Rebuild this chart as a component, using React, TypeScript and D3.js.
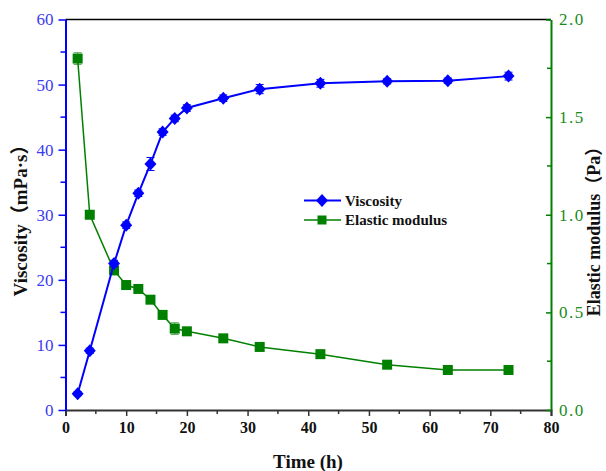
import { useEffect, useRef } from "react"
import * as d3 from "d3"

// time (h)
const times = [2, 4, 8, 10, 12, 14, 16, 18, 20, 26, 32, 42, 53, 63, 73]
// viscosity, mPa·s
const viscosity = [2.5, 9.1, 22.5, 28.4, 33.3, 37.8, 42.7, 44.8, 46.4, 47.9, 49.3, 50.2, 50.5, 50.6, 51.3]
const viscosityErr = [0.3, 0.4, 0.5, 0.5, 0.5, 1.0, 0.5, 0.5, 0.5, 0.5, 0.7, 0.6, 0.4, 0.4, 0.6]
// elastic modulus, Pa
const elastic = [1.8, 1.0, 0.715, 0.64, 0.62, 0.565, 0.487, 0.417, 0.403, 0.367, 0.323, 0.286, 0.232, 0.205, 0.205]
const elasticErr = [0.03, 0.01, 0.02, 0.01, 0.01, 0.01, 0.01, 0.03, 0.01, 0.01, 0.01, 0.01, 0.01, 0.01, 0.01]

const xTicks = [0, 10, 20, 30, 40, 50, 60, 70, 80]
const yLeftTicks = [0, 10, 20, 30, 40, 50, 60]
const yRightTicks = [0, 0.5, 1.0, 1.5, 2.0]

const serif = "'Liberation Serif', 'Times New Roman', 'Noto Sans CJK SC', serif"
const BLUE = "#0000ff"
const GREEN = "#008000"

export default function App() {
    const ref = useRef<SVGSVGElement | null>(null)

    useEffect(() => {
        const svg = d3.select(ref.current)
        svg.selectAll("*").remove()

        const width = 606
        const height = 471
        const margin = { top: 19.5, right: 55, bottom: 61, left: 65.5 }
        const innerW = width - margin.left - margin.right
        const innerH = height - margin.top - margin.bottom

        const x = d3.scaleLinear().domain([0, 80]).range([0, innerW])
        const yL = d3.scaleLinear().domain([0, 60]).range([innerH, 0])
        const yR = d3.scaleLinear().domain([0, 2]).range([innerH, 0])

        const g = svg.append("g").attr("transform", `translate(${margin.left},${margin.top})`)

        // top frame line
        g.append("line")
            .attr("x1", 0).attr("x2", innerW)
            .attr("y1", 0).attr("y2", 0)
            .attr("stroke", "#000").attr("stroke-width", 1.5)

        // bottom axis
        const xAxis = g.append("g")
            .attr("transform", `translate(0,${innerH})`)
            .call(d3.axisBottom(x).tickValues(xTicks).tickSize(6).tickPadding(6).tickFormat(d3.format("d")))
            .attr("font-family", serif)
            .attr("font-size", 16)
        xAxis.select(".domain").attr("stroke", "#333").attr("stroke-width", 2)
        xAxis.selectAll(".tick line").attr("stroke", "#333").attr("stroke-width", 1.5)
        xAxis.selectAll(".tick text")
            .attr("fill", "#111")
            .attr("font-weight", "bold")
        xAxis.append("g").selectAll("line")
            .data(d3.range(5, 80, 10))
            .join("line")
            .attr("x1", d => x(d)).attr("x2", d => x(d))
            .attr("y1", 0).attr("y2", 4)
            .attr("stroke", "#333").attr("stroke-width", 1.5)

        // left axis
        const yAxisL = g.append("g")
            .call(d3.axisLeft(yL).tickValues(yLeftTicks).tickSize(7).tickPadding(5).tickSizeOuter(0))
            .attr("font-family", serif)
            .attr("font-size", 17)
        yAxisL.select(".domain").attr("stroke", BLUE).attr("stroke-width", 2)
        yAxisL.selectAll(".tick line").attr("stroke", BLUE).attr("stroke-width", 1.5)
        yAxisL.selectAll(".tick text").attr("fill", "#3b3bf0")
        yAxisL.append("g").selectAll("line")
            .data(d3.range(5, 60, 10))
            .join("line")
            .attr("x1", 0).attr("x2", -5)
            .attr("y1", d => yL(d)).attr("y2", d => yL(d))
            .attr("stroke", BLUE).attr("stroke-width", 1.5)

        // right axis
        const yAxisR = g.append("g")
            .attr("transform", `translate(${innerW},0)`)
            .call(d3.axisRight(yR).tickValues(yRightTicks).tickSizeInner(-5).tickSizeOuter(0).tickPadding(8).tickFormat(d => (+d).toFixed(1)))
            .attr("font-family", serif)
            .attr("font-size", 17)
        yAxisR.select(".domain").attr("stroke", GREEN).attr("stroke-width", 2)
        yAxisR.selectAll(".tick line").attr("stroke", GREEN).attr("stroke-width", 1.5)
        yAxisR.selectAll(".tick text")
            .attr("fill", "#1a8a1a")
            .attr("letter-spacing", "1.5px")
        yAxisR.append("g").selectAll("line")
            .data([0.25, 0.75, 1.25, 1.75])
            .join("line")
            .attr("x1", 0).attr("x2", -4)
            .attr("y1", d => yR(d)).attr("y2", d => yR(d))
            .attr("stroke", GREEN).attr("stroke-width", 1.5)

        const visData = times.map((t, i) => ({ t, v: viscosity[i], e: viscosityErr[i] }))
        const elData = times.map((t, i) => ({ t, v: elastic[i], e: elasticErr[i] }))

        // elastic modulus series
        const errEl = g.append("g").attr("stroke", "#5aa85a").attr("stroke-width", 1)
        elData.forEach(d => {
            const y1 = yR(d.v - d.e)
            const y2 = yR(d.v + d.e)
            const cx = x(d.t)
            errEl.append("line").attr("x1", cx).attr("x2", cx).attr("y1", y1).attr("y2", y2)
            errEl.append("line").attr("x1", cx - 4).attr("x2", cx + 4).attr("y1", y1).attr("y2", y1)
            errEl.append("line").attr("x1", cx - 4).attr("x2", cx + 4).attr("y1", y2).attr("y2", y2)
        })
        g.append("path")
            .datum(elData)
            .attr("fill", "none")
            .attr("stroke", GREEN)
            .attr("stroke-width", 1.5)
            .attr("d", d3.line<{ t: number; v: number }>().x(d => x(d.t)).y(d => yR(d.v)))
        g.append("g").selectAll("rect")
            .data(elData)
            .join("rect")
            .attr("x", d => x(d.t) - 5)
            .attr("y", d => yR(d.v) - 5)
            .attr("width", 10)
            .attr("height", 10)
            .attr("fill", GREEN)

        // viscosity series
        const errVis = g.append("g").attr("stroke", BLUE).attr("stroke-width", 1)
        visData.forEach(d => {
            const y1 = yL(d.v - d.e)
            const y2 = yL(d.v + d.e)
            const cx = x(d.t)
            errVis.append("line").attr("x1", cx).attr("x2", cx).attr("y1", y1).attr("y2", y2)
            errVis.append("line").attr("x1", cx - 4).attr("x2", cx + 4).attr("y1", y1).attr("y2", y1)
            errVis.append("line").attr("x1", cx - 4).attr("x2", cx + 4).attr("y1", y2).attr("y2", y2)
        })
        g.append("path")
            .datum(visData)
            .attr("fill", "none")
            .attr("stroke", BLUE)
            .attr("stroke-width", 2)
            .attr("d", d3.line<{ t: number; v: number }>().x(d => x(d.t)).y(d => yL(d.v)))
        const diamond = (cx: number, cy: number) =>
            `M${cx},${cy - 6.5}L${cx + 6},${cy}L${cx},${cy + 6.5}L${cx - 6},${cy}Z`
        g.append("g").selectAll("path")
            .data(visData)
            .join("path")
            .attr("d", d => diamond(x(d.t), yL(d.v)))
            .attr("fill", BLUE)

        // legend
        const legend = svg.append("g")
        const legendItems = [
            { label: "Viscosity", color: BLUE, shape: "diamond", width: 2 },
            { label: "Elastic modulus", color: GREEN, shape: "square", width: 1.5 },
        ]
        legendItems.forEach((item, i) => {
            const ly = 200.5 + i * 19.5
            legend.append("line")
                .attr("x1", 304).attr("x2", 341)
                .attr("y1", ly).attr("y2", ly)
                .attr("stroke", item.color).attr("stroke-width", item.width)
            if (item.shape === "diamond") {
                legend.append("path").attr("d", diamond(322, ly)).attr("fill", item.color)
            } else {
                legend.append("rect")
                    .attr("x", 317.5).attr("y", ly - 4.5)
                    .attr("width", 9).attr("height", 9)
                    .attr("fill", item.color)
            }
            legend.append("text")
                .attr("x", 345)
                .attr("y", ly + 5)
                .attr("fill", "#111")
                .style("font-family", serif)
                .style("font-size", "15px")
                .style("font-weight", "bold")
                .text(item.label)
        })

        // axis titles
        svg.append("text")
            .attr("x", 308)
            .attr("y", 468)
            .attr("text-anchor", "middle")
            .attr("fill", "#111")
            .style("font-family", serif)
            .style("font-size", "19px")
            .style("font-weight", "bold")
            .text("Time (h)")

        svg.append("text")
            .attr("transform", "translate(27,216) rotate(-90)")
            .attr("text-anchor", "middle")
            .attr("fill", "#111")
            .style("font-family", serif)
            .style("font-size", "19px")
            .style("font-weight", "bold")
            .text("Viscosity（mPa·s）")

        svg.append("text")
            .attr("transform", "translate(600,227) rotate(-90)")
            .attr("text-anchor", "middle")
            .attr("fill", "#111")
            .style("font-family", serif)
            .style("font-size", "18px")
            .style("font-weight", "bold")
            .text("Elastic modulus（Pa）")
    }, [])

    return (
        <svg
            ref={ref}
            width={606}
            height={471}
            style={{ position: "absolute", left: 0, top: 0, background: "#fff" }}
        />
    )
}
